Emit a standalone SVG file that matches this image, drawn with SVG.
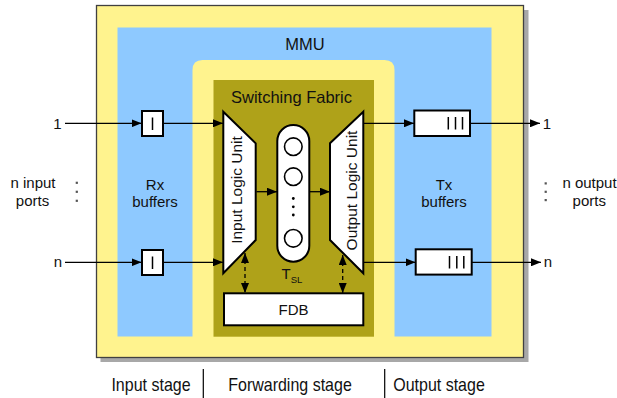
<svg xmlns="http://www.w3.org/2000/svg" width="617" height="398" viewBox="0 0 617 398">
<defs>
<style>
text{font-family:"Liberation Sans",Arial,sans-serif;fill:#111;}
.lbl{font-size:15px;text-anchor:middle;}
.ttl{font-size:16.5px;text-anchor:middle;}
.stg{font-size:16px;text-anchor:middle;}
.box{fill:#fff;stroke:#000;stroke-width:2;}
.tick{stroke:#000;stroke-width:1.5;fill:none;}
.con{stroke:#000;stroke-width:1.3;fill:none;}
.dash{stroke:#000;stroke-width:1.3;fill:none;stroke-dasharray:4 3;}
.dot{fill:#555;}
.bdot{fill:#000;}
</style>
<marker id="ah" markerWidth="10" markerHeight="8" refX="10" refY="4" orient="auto" markerUnits="userSpaceOnUse">
<path d="M0,0 L10,4 L0,8 Z" fill="#000"/>
</marker>
<marker id="as" markerWidth="10" markerHeight="8" refX="0" refY="4" orient="auto" markerUnits="userSpaceOnUse">
<path d="M10,0 L0,4 L10,8 Z" fill="#000"/>
</marker>
</defs>
<rect width="617" height="398" fill="#fff"/>

<g id="mmu">
<rect x="100.5" y="10" width="428" height="352" fill="#a8a8a8"/>
<rect x="96.5" y="5.5" width="427" height="352" fill="#fff38e" stroke="#404040" stroke-width="1.3"/>
<rect x="117.5" y="27.5" width="374" height="309" fill="#8ec9ff"/>
<text class="ttl" x="305" y="50">MMU</text>
</g>

<g id="rx-buffers">
<text class="lbl" x="155" y="189.5">Rx</text>
<text class="lbl" x="155" y="206.5">buffers</text>
</g>
<g id="tx-buffers">
<text class="lbl" x="444" y="189.5">Tx</text>
<text class="lbl" x="444" y="206.5">buffers</text>
</g>

<g id="switching-fabric">
<path d="M192.5,345 V70 Q192.5,60 202.5,60 H384.5 Q394.5,60 394.5,70 V345 Z" fill="#fff38e"/>
<rect x="213.5" y="80" width="160.5" height="256.7" fill="#afa219"/>
<text class="ttl" x="291.5" y="102.5">Switching Fabric</text>
</g>

<g id="input-logic-unit">
<polygon class="box" points="223.3,111.7 255.7,143.3 255.7,240 223.3,273.3"/>
<text class="lbl" style="font-size:15.5px" transform="translate(242,190) rotate(-90)" x="0" y="0">Input Logic Unit</text>
</g>

<g id="output-logic-unit">
<polygon class="box" points="363.3,111.7 330,143.3 330,240 363.3,273.3"/>
<text class="lbl" style="font-size:15.5px" transform="translate(357,190.5) rotate(-90)" x="0" y="0">Output Logic Unit</text>
</g>

<g id="shared-buffer">
<rect class="box" x="277.3" y="125" width="32" height="136.7" rx="16" ry="16"/>
<circle cx="293.3" cy="146.7" r="8.8" fill="#fff" stroke="#000" stroke-width="1.6"/>
<circle cx="293.3" cy="176.7" r="8.8" fill="#fff" stroke="#000" stroke-width="1.6"/>
<circle cx="293.3" cy="238.3" r="8.8" fill="#fff" stroke="#000" stroke-width="1.6"/>
<circle class="bdot" cx="293.3" cy="198.5" r="1.4"/>
<circle class="bdot" cx="293.3" cy="206.8" r="1.4"/>
<circle class="bdot" cx="293.3" cy="215" r="1.4"/>
<text x="281.5" y="278.5" style="font-size:15px">T<tspan dy="4" style="font-size:9.5px">SL</tspan></text>
</g>

<g id="fdb">
<rect class="box" x="224" y="293.3" width="139.3" height="32"/>
<text class="lbl" x="293.5" y="314.5">FDB</text>
</g>

<g id="rx-buffer-1">
<rect class="box" x="142" y="111" width="21" height="25"/>
<line class="tick" x1="152.5" y1="117.5" x2="152.5" y2="130"/>
</g>
<g id="rx-buffer-n">
<rect class="box" x="142" y="250" width="21" height="25"/>
<line class="tick" x1="152.5" y1="256.5" x2="152.5" y2="269"/>
</g>
<g id="tx-buffer-1">
<rect class="box" x="414.3" y="110.5" width="55.7" height="25.5"/>
<line class="tick" x1="448.3" y1="117" x2="448.3" y2="129.5"/>
<line class="tick" x1="455.5" y1="117" x2="455.5" y2="129.5"/>
<line class="tick" x1="462.5" y1="117" x2="462.5" y2="129.5"/>
</g>
<g id="tx-buffer-n">
<rect class="box" x="415.7" y="249.3" width="56" height="25.3"/>
<line class="tick" x1="449.5" y1="256" x2="449.5" y2="268.5"/>
<line class="tick" x1="456.8" y1="256" x2="456.8" y2="268.5"/>
<line class="tick" x1="463.8" y1="256" x2="463.8" y2="268.5"/>
</g>

<g id="input-ports">
<text class="lbl" x="57.5" y="128.5">1</text>
<text class="lbl" x="57.8" y="266.5">n</text>
<text class="lbl" x="33" y="187.5">n input</text>
<text class="lbl" x="32.5" y="205.5">ports</text>
<rect class="dot" x="75.7" y="181.7" width="2.2" height="2.2"/>
<rect class="dot" x="75.7" y="190.7" width="2.2" height="2.2"/>
<rect class="dot" x="75.7" y="199.7" width="2.2" height="2.2"/>
</g>

<g id="output-ports">
<text class="lbl" x="547" y="128.5">1</text>
<text class="lbl" x="548" y="266.5">n</text>
<text class="lbl" x="589.5" y="187.5">n output</text>
<text class="lbl" x="589.3" y="205.5">ports</text>
<rect class="dot" x="544.6" y="182.3" width="2.2" height="2.2"/>
<rect class="dot" x="544.6" y="190.7" width="2.2" height="2.2"/>
<rect class="dot" x="544.6" y="199" width="2.2" height="2.2"/>
</g>

<g id="connectors">
<path class="con" d="M65,123.3 H141.5" marker-end="url(#ah)"/>
<path class="con" d="M163,123.3 H223" marker-end="url(#ah)"/>
<path class="con" d="M65,262.3 H141.5" marker-end="url(#ah)"/>
<path class="con" d="M163,262.3 H223" marker-end="url(#ah)"/>
<path class="con" d="M256.5,191.7 H277" marker-end="url(#ah)"/>
<path class="con" d="M309.3,191.7 H330" marker-end="url(#ah)"/>
<path class="con" d="M363.3,123.3 H414" marker-end="url(#ah)"/>
<path class="con" d="M470,123.3 H540" marker-end="url(#ah)"/>
<path class="con" d="M363.3,262.3 H415.5" marker-end="url(#ah)"/>
<path class="con" d="M471.7,262.3 H541" marker-end="url(#ah)"/>
<path class="dash" d="M245,253 V293" marker-start="url(#as)" marker-end="url(#ah)"/>
<path class="dash" d="M342.7,255 V293" marker-start="url(#as)" marker-end="url(#ah)"/>
</g>

<g id="stages">
<text class="stg" transform="translate(151,390.5) scale(1,1.15)">Input stage</text>
<text class="stg" transform="translate(290,390.5) scale(1,1.15)">Forwarding stage</text>
<text class="stg" transform="translate(439,390.5) scale(1,1.15)">Output stage</text>
<line x1="203.3" y1="369" x2="203.3" y2="398" stroke="#000" stroke-width="1.2"/>
<line x1="384.7" y1="369" x2="384.7" y2="398" stroke="#000" stroke-width="1.2"/>
</g>
</svg>
